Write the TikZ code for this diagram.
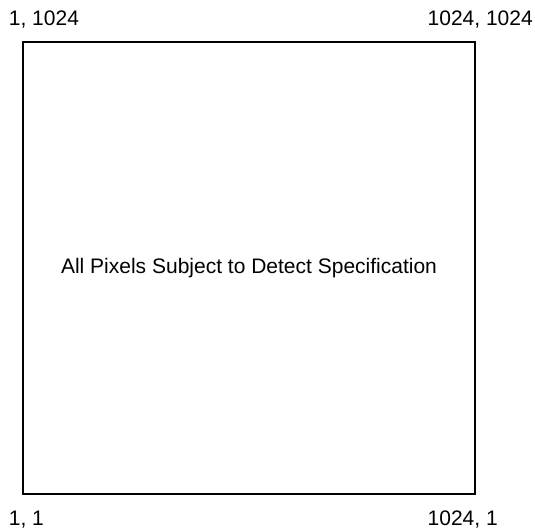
\documentclass[tikz,border=0pt]{standalone}
\usepackage{fontspec}
\setmainfont{Liberation Sans}
\usepackage{tikz}
\usetikzlibrary{positioning,calc}
\tikzset{
pixlabel/.style={anchor=base west,inner sep=0pt,font=\fontsize{21}{25}\selectfont},
sensorbox/.style={draw,line width=2pt}
}
\begin{document}
\begin{tikzpicture}[x=1pt,y=1pt]
\useasboundingbox (0,0) rectangle (535,531);
\coordinate (sw) at (22.7,37);
\coordinate (ne) at (475.3,489.3);
\draw[sensorbox] (sw) rectangle (ne);
\node[inner sep=0pt,font=\fontsize{21}{25}\selectfont] (spec) at ($(sw)!0.5!(ne)$) {All Pixels Subject to Detect Specification};
\node[pixlabel] (tl) at (8.7,505) {1, 1024};
\node[pixlabel] (tr) at (427.5,505) {1024, 1024};
\node[pixlabel] (bl) at (8.7,5.3) {1, 1};
\node[pixlabel] (br) at (427.5,5.3) {1024, 1};
\end{tikzpicture}
\end{document}
